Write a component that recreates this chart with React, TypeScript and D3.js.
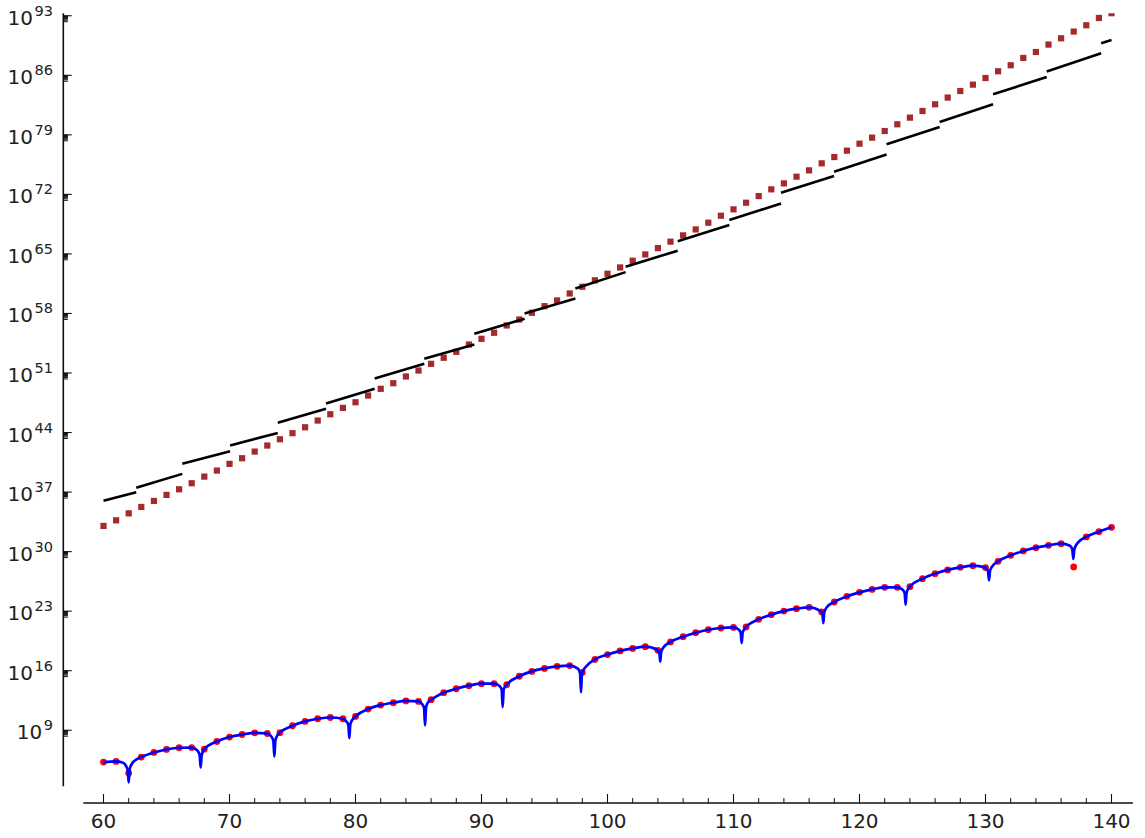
import { useEffect, useRef } from "react";
import * as d3 from "d3";

const WIDTH = 1145;
const HEIGHT = 838;

// sample points n = 60 .. 140
const nValues = d3.range(60, 141);

// log10 of the sampled values (red dots), n = 60..140
const redExp = [
  5.26, 5.33, 3.96, 5.85, 6.39, 6.74, 6.94, 6.96, 6.78, 7.68,
  8.2, 8.5, 8.7, 8.62, 8.72, 9.53, 10.04, 10.35, 10.5, 10.35,
  10.62, 11.49, 11.96, 12.24, 12.45, 12.39, 12.59, 13.42, 13.88, 14.24,
  14.48, 14.48, 14.35, 15.35, 15.92, 16.27, 16.51, 16.6, 15.8, 17.33,
  17.9, 18.33, 18.62, 18.82, 18.4, 19.38, 20.0, 20.47, 20.82, 21.02,
  21.09, 21.14, 22.04, 22.59, 23.01, 23.29, 23.45, 22.9, 24.08, 24.74,
  25.21, 25.56, 25.8, 25.8, 25.88, 26.82, 27.41, 27.85, 28.15, 28.35,
  28.12, 28.86, 29.56, 30.08, 30.47, 30.74, 30.94, 28.2, 31.73, 32.35,
  32.86,
];

// log10 of the upper bound (brown squares), n = 60..140
const brownExp = [
  33.02, 33.68, 34.5, 35.25, 35.96, 36.67, 37.33, 38.04, 38.82, 39.53,
  40.32, 40.98, 41.76, 42.47, 43.21, 43.92, 44.62, 45.41, 46.15, 46.9,
  47.56, 48.35, 49.14, 49.8, 50.59, 51.29, 52.08, 52.79, 53.49, 54.35,
  55.02, 55.73, 56.59, 57.29, 58.08, 58.86, 59.53, 60.35, 61.14, 61.9,
  62.67, 63.41, 64.2, 64.94, 65.68, 66.44, 67.18, 67.88, 68.67, 69.49,
  70.24, 71.02, 71.8, 72.59, 73.29, 74.08, 74.82, 75.65, 76.39, 77.14,
  77.96, 78.67, 79.45, 80.24, 81.02, 81.8, 82.59, 83.38, 84.15, 84.9,
  85.68, 86.47, 87.18, 88.04, 88.74, 89.61, 90.35, 91.14, 91.88, 92.74,
  93.3,
];

// black piecewise segments: [x0, log10 y0, x1, log10 y1]
const blackSegments: [number, number, number, number][] = [
  [60, 35.97, 62.6, 36.98],
  [62.6, 37.5, 66.25, 39.14],
  [66.25, 40.32, 70.05, 41.8],
  [70.05, 42.47, 73.83, 43.96],
  [73.83, 45.14, 77.66, 46.79],
  [77.66, 47.41, 81.52, 49.14],
  [81.52, 50.35, 85.46, 52.08],
  [85.46, 52.67, 89.43, 54.35],
  [89.43, 55.61, 93.42, 57.38],
  [93.42, 58.0, 97.45, 59.76],
  [97.45, 60.94, 101.44, 62.86],
  [101.44, 63.5, 105.57, 65.38],
  [105.57, 66.5, 109.67, 68.39],
  [109.67, 68.98, 113.77, 70.94],
  [113.77, 72.2, 117.98, 74.15],
  [117.98, 74.67, 122.15, 76.7],
  [122.15, 77.88, 126.36, 79.92],
  [126.36, 80.5, 130.6, 82.59],
  [130.6, 83.76, 134.86, 85.8],
  [134.86, 86.44, 139.18, 88.59],
  [139.18, 89.76, 140, 90.15],
];

// extra points of the blue curve around its zeros: [x, log10 y]
const blueCusps: [number, number][][] = [
  [[61.5, 5.2], [61.75, 4.9], [61.92, 4.3], [62.0, 2.86], [62.08, 4.45], [62.25, 5.05], [62.5, 5.45]],
  [[67.46, 6.6], [67.63, 6.1], [67.71, 4.62], [67.79, 6.05]],
  [[73.3, 8.3], [73.48, 7.75], [73.56, 5.92], [73.64, 7.8], [73.8, 8.4]],
  [[79.26, 10.05], [79.43, 9.65], [79.51, 8.08], [79.59, 9.7], [79.76, 10.25]],
  [[85.27, 12.1], [85.44, 11.65], [85.52, 9.56], [85.6, 11.7], [85.77, 12.3]],
  [[91.43, 14.2], [91.6, 13.8], [91.68, 11.73], [91.76, 13.8]],
  [[97.65, 16.25], [97.82, 15.7], [97.9, 13.45], [97.96, 15.5], [98.3, 16.5]],
  [[104.12, 18.05], [104.19, 17.06], [104.26, 18.2], [104.45, 18.75]],
  [[110.4, 20.85], [110.57, 20.5], [110.65, 19.26], [110.73, 20.5]],
  [[117.06, 22.75], [117.13, 21.6], [117.2, 22.85], [117.4, 23.45]],
  [[123.4, 25.55], [123.58, 25.15], [123.66, 23.76], [123.74, 25.2]],
  [[130.2, 27.7], [130.28, 26.62], [130.36, 27.75], [130.55, 28.3]],
  [[136.7, 30.7], [136.89, 30.25], [136.97, 29.14], [137.05, 30.25], [137.3, 31.0]],
];

const yTickExps = d3.range(9, 94, 7);
const xMajorTicks = d3.range(60, 141, 10);
const xMinorTicks = d3.range(60, 141, 2).filter((d) => d % 10 !== 0);

const Y_MIN_EXP = 2.6;
const Y_MAX_EXP = 93.29;

export default function App() {
  const ref = useRef<SVGSVGElement>(null);

  useEffect(() => {
    if (!ref.current) return;
    const svg = d3.select(ref.current);
    svg.selectAll("*").remove();

    const x = d3.scaleLinear().domain([60, 140]).range([103.5, 1111.5]);
    const y = d3
      .scaleLog()
      .domain([Math.pow(10, 9), Math.pow(10, 93)])
      .range([730.25, 15.75]);
    const ye = (e: number) => y(Math.pow(10, e));

    const axisX = x(56.81);
    const axisY = 803;
    const top = ye(Y_MAX_EXP);
    const bottom = ye(Y_MIN_EXP);

    svg
      .append("defs")
      .append("clipPath")
      .attr("id", "plot-clip")
      .append("rect")
      .attr("x", axisX)
      .attr("y", top)
      .attr("width", x(141.7) - axisX)
      .attr("height", axisY - top);

    const plot = svg.append("g").attr("clip-path", "url(#plot-clip)");

    // brown squares
    const sq = 6.2;
    plot
      .selectAll(".sq")
      .data(nValues)
      .enter()
      .append("rect")
      .attr("x", (d) => x(d) - sq / 2)
      .attr("y", (d, i) => ye(brownExp[i]) - sq / 2)
      .attr("width", sq)
      .attr("height", sq)
      .attr("fill", "#a52a2a");

    // black segments
    plot
      .selectAll(".seg")
      .data(blackSegments)
      .enter()
      .append("line")
      .attr("x1", (d) => x(d[0]))
      .attr("y1", (d) => ye(d[1]))
      .attr("x2", (d) => x(d[2]))
      .attr("y2", (d) => ye(d[3]))
      .attr("stroke", "#000")
      .attr("stroke-width", 2.6);

    // red dots
    plot
      .selectAll(".dot")
      .data(nValues)
      .enter()
      .append("circle")
      .attr("cx", (d) => x(d))
      .attr("cy", (d, i) => ye(redExp[i]))
      .attr("r", 3.4)
      .attr("fill", "#ff0000");

    // blue curve: dots away from the zeros, plus the cusp points
    const cuspX = blueCusps.map((c) => c[Math.floor(c.length / 2)][0]);
    const bluePts: [number, number][] = nValues
      .map((n, i) => [n, redExp[i]] as [number, number])
      .filter(([n]) => !cuspX.some((c) => Math.abs(c - n) < 0.06))
      .concat(blueCusps.flat())
      .sort((a, b) => a[0] - b[0]);

    const line = d3
      .line<[number, number]>()
      .x((d) => x(d[0]))
      .y((d) => ye(d[1]))
      .curve(d3.curveMonotoneX);

    plot
      .append("path")
      .attr("d", line(bluePts))
      .attr("fill", "none")
      .attr("stroke", "#0000ff")
      .attr("stroke-width", 2.7)
      .attr("stroke-linejoin", "round");

    // axes
    const axes = svg.append("g").attr("stroke", "#111").attr("fill", "none");
    axes
      .append("line")
      .attr("x1", axisX)
      .attr("x2", axisX)
      .attr("y1", top)
      .attr("y2", bottom + 1.5)
      .attr("stroke-width", 1.6);
    axes
      .append("line")
      .attr("x1", x(58.4))
      .attr("x2", x(141.7))
      .attr("y1", axisY)
      .attr("y2", axisY)
      .attr("stroke-width", 1.6);

    // y ticks: major + bunched minor ticks of the decade below
    yTickExps.forEach((k) => {
      axes
        .append("line")
        .attr("x1", axisX)
        .attr("x2", axisX + 8.4)
        .attr("y1", ye(k))
        .attr("y2", ye(k))
        .attr("stroke-width", 1.1);
      d3.range(2, 10).forEach((m) => {
        const v = y(m * Math.pow(10, k - 1));
        axes
          .append("line")
          .attr("x1", axisX)
          .attr("x2", axisX + 4.6)
          .attr("y1", v)
          .attr("y2", v)
          .attr("stroke-width", 1);
      });
    });

    // x ticks
    xMajorTicks.forEach((t) => {
      axes
        .append("line")
        .attr("x1", x(t))
        .attr("x2", x(t))
        .attr("y1", axisY)
        .attr("y2", axisY - 9)
        .attr("stroke-width", 1.1);
    });
    xMinorTicks.forEach((t) => {
      axes
        .append("line")
        .attr("x1", x(t))
        .attr("x2", x(t))
        .attr("y1", axisY)
        .attr("y2", axisY - 5)
        .attr("stroke-width", 1);
    });

    const labels = svg
      .append("g")
      .attr("font-family", "DejaVu Sans, sans-serif")
      .attr("fill", "#222");

    labels
      .selectAll(".xl")
      .data(xMajorTicks)
      .enter()
      .append("text")
      .attr("x", (d) => x(d))
      .attr("y", 828)
      .attr("text-anchor", "middle")
      .attr("font-size", 20)
      .text((d) => String(d));

    yTickExps.forEach((k) => {
      const t = labels
        .append("text")
        .attr("x", 53)
        .attr("y", ye(k) + 9)
        .attr("text-anchor", "end")
        .attr("font-size", 20);
      t.append("tspan").text("10");
      t.append("tspan")
        .attr("dx", 1.5)
        .attr("dy", -9)
        .attr("font-size", 14.5)
        .text(String(k));
    });
  }, []);

  return (
    <svg
      ref={ref}
      width={WIDTH}
      height={HEIGHT}
      style={{ position: "absolute", left: 0, top: 0, background: "#fff" }}
    />
  );
}
